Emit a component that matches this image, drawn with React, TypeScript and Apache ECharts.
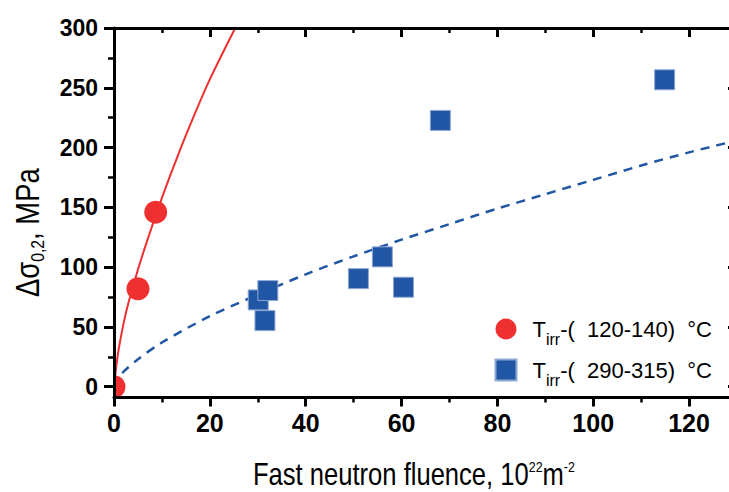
import React, { useEffect, useRef } from "react";
import * as echarts from "echarts";

// ---- data ----
const xMajorTicks = [0, 20, 40, 60, 80, 100, 120];
const xMinorTicks = [10, 30, 50, 70, 90, 110, 130];
const yMajorTicks = [0, 50, 100, 150, 200, 250, 300];
const yMinorTicks = [25, 75, 125, 175, 225, 275];

const lowTempName = "T irr (120-140) °C";
const highTempName = "T irr (290-315) °C";
const lowTempLabel = "-(  120-140)  °C";
const highTempLabel = "-(  290-315)  °C";

const xTitle = "Fast neutron fluence, 10{p|22}m{p|-2}";
const yTitle = "Δσ{s|0,2}, MPa";

const lowTempFluence = [0, 5.0, 8.7];
const lowTempDelta = [0, 82, 146];
const highTempFluence = [30.1, 32.1, 31.5, 51.0, 56.0, 60.4, 68.1, 114.9];
const highTempDelta = [72.6, 80.4, 55.3, 90.4, 108.6, 83.2, 222.7, 256.7];

const lowFitFluence = [0, 0.5, 1, 2, 3, 5, 7, 10, 13, 16, 20, 25.3];
const lowFitDelta = [0, 18, 32, 53, 70, 98, 123, 158, 190, 220, 257, 300];
const highFitFluence = [0, 1, 2, 5, 10, 20, 30, 40, 50, 60, 70, 80, 90, 100, 110, 120, 130];
const highFitDelta = [0, 8, 12.6, 23, 37, 59, 77, 94, 109, 123, 136, 149, 161, 173, 185, 196, 206];

const X_MIN = 0;
const X_MAX = 130;
const Y_MIN = -9;
const Y_MAX = 300;

const RED = "#ee3030";
const BLUE = "#2156a5";
const BLACK = "#000";
const FR = "'Liberation Sans', Arial, sans-serif";

const zip = (xs: number[], ys: number[]) => xs.map((x, i) => [x, ys[i]]);

export default function App() {
  const ref = useRef<HTMLDivElement>(null);

  useEffect(() => {
    if (!ref.current) return;
    const chart = echarts.init(ref.current, null, { renderer: "svg" });

    const baseX = { type: "value", min: X_MIN, max: X_MAX, splitLine: { show: false } };
    const baseY = { type: "value", min: Y_MIN, max: Y_MAX, splitLine: { show: false } };

    const option: any = {
      animation: false,
      backgroundColor: "#fff",
      grid: { left: 114, top: 28, right: -8, bottom: 94.5, containLabel: false, outerBoundsMode: "none" },
      legend: {
        orient: "vertical",
        left: 494.5,
        top: 311,
        padding: 0,
        itemGap: 5,
        itemWidth: 21,
        itemHeight: 21,
        selectedMode: false,
        data: [
          { name: lowTempName, icon: "circle", itemStyle: { color: RED } },
          { name: highTempName, icon: "rect", itemStyle: { color: BLUE } },
        ],
        formatter: (name: string) =>
          "{a|T}{s|irr}{b|" + (name === lowTempName ? lowTempLabel : highTempLabel) + "}",
        textStyle: {
          color: BLACK,
          rich: {
            a: { fontFamily: FR, fontSize: 22, lineHeight: 30, color: BLACK, padding: [0, 0, 0, 11], verticalAlign: "middle" },
            s: { fontFamily: FR, fontSize: 16, lineHeight: 16, color: BLACK, padding: [20, 0, 0, 0], verticalAlign: "middle" },
            b: { fontFamily: FR, fontSize: 22, lineHeight: 30, color: BLACK, verticalAlign: "middle" },
          },
        },
      },
      graphic: [
        {
          type: "text",
          x: 253,
          y: 474.5,
          scaleX: 0.825,
          silent: true,
          style: {
            text: xTitle,
            fontFamily: FR,
            fontSize: 31,
            lineHeight: 34,
            fill: BLACK,
            align: "left",
            verticalAlign: "middle",
            rich: {
              p: { fontFamily: FR, fontSize: 15, lineHeight: 15, fill: BLACK, color: BLACK, padding: [0, 0, 14, 0], verticalAlign: "middle" },
            },
          },
        },
        {
          type: "text",
          x: 27.5,
          y: 297,
          rotation: Math.PI / 2,
          scaleX: 0.83,
          silent: true,
          style: {
            text: yTitle,
            fontFamily: FR,
            fontSize: 33,
            lineHeight: 36,
            fill: BLACK,
            align: "left",
            verticalAlign: "middle",
            rich: {
              s: { fontFamily: FR, fontSize: 19, lineHeight: 20, fill: BLACK, color: BLACK, padding: [20, 0, 0, 0], verticalAlign: "middle" },
            },
          },
        },
      ],
      xAxis: [
        {
          ...baseX,
          position: "bottom",
          z: 5,
          axisLine: { show: true, onZero: false, lineStyle: { color: BLACK, width: 3 } },
          axisTick: { show: true, inside: false, length: 9, customValues: xMajorTicks, lineStyle: { color: BLACK, width: 3 } },
          axisLabel: { show: true, customValues: xMajorTicks, margin: 13, fontFamily: FR, fontWeight: "bold", fontSize: 25, color: BLACK },
        },
        {
          ...baseX,
          position: "bottom",
          z: 5,
          axisLine: { show: false, onZero: false },
          axisTick: { show: true, inside: false, length: 5, customValues: xMinorTicks, lineStyle: { color: BLACK, width: 2.5 } },
          axisLabel: { show: false },
        },
        {
          ...baseX,
          position: "top",
          z: 5,
          axisLine: { show: true, onZero: false, lineStyle: { color: BLACK, width: 3 } },
          axisTick: { show: true, inside: true, length: 9, customValues: xMajorTicks, lineStyle: { color: BLACK, width: 3 } },
          axisLabel: { show: false },
        },
        {
          ...baseX,
          position: "top",
          z: 5,
          axisLine: { show: false, onZero: false },
          axisTick: { show: true, inside: true, length: 5, customValues: xMinorTicks, lineStyle: { color: BLACK, width: 2.5 } },
          axisLabel: { show: false },
        },
      ],
      yAxis: [
        {
          ...baseY,
          position: "left",
          z: 5,
          axisLine: { show: true, onZero: false, lineStyle: { color: BLACK, width: 3 } },
          axisTick: { show: true, inside: false, length: 10, customValues: yMajorTicks, lineStyle: { color: BLACK, width: 3 } },
          axisLabel: { show: true, customValues: yMajorTicks, margin: 16, fontFamily: FR, fontWeight: "bold", fontSize: 23, color: BLACK },
        },
        {
          ...baseY,
          position: "left",
          z: 5,
          axisLine: { show: false, onZero: false },
          axisTick: { show: true, inside: false, length: 6, customValues: yMinorTicks, lineStyle: { color: BLACK, width: 2.5 } },
          axisLabel: { show: false },
        },
        {
          ...baseY,
          position: "right",
          z: 5,
          axisLine: { show: true, onZero: false, lineStyle: { color: BLACK, width: 3 } },
          axisTick: { show: true, inside: true, length: 9, customValues: yMajorTicks, lineStyle: { color: BLACK, width: 3 } },
          axisLabel: { show: false },
        },
      ],
      series: [
        {
          type: "line",
          name: "fit-low",
          xAxisIndex: 0,
          yAxisIndex: 0,
          data: zip(lowFitFluence, lowFitDelta),
          smooth: 0.3,
          showSymbol: false,
          symbol: "none",
          z: 2,
          lineStyle: { color: RED, width: 2 },
          silent: true,
        },
        {
          type: "line",
          name: "fit-high",
          xAxisIndex: 0,
          yAxisIndex: 0,
          data: zip(highFitFluence, highFitDelta),
          smooth: 0.3,
          showSymbol: false,
          symbol: "none",
          z: 2,
          lineStyle: { color: BLUE, width: 2.5, type: [9, 7] },
          silent: true,
        },
        {
          type: "custom",
          name: lowTempName,
          coordinateSystem: "cartesian2d",
          xAxisIndex: 0,
          yAxisIndex: 0,
          clip: true,
          z: 3,
          itemStyle: { color: RED },
          encode: { x: 0, y: 1 },
          data: zip(lowTempFluence, lowTempDelta),
          renderItem: (_params: any, api: any) => {
            const p = api.coord([api.value(0), api.value(1)]);
            return { type: "circle", shape: { cx: p[0], cy: p[1], r: 11.5 }, style: { fill: RED } };
          },
        },
        {
          type: "scatter",
          name: highTempName,
          xAxisIndex: 0,
          yAxisIndex: 0,
          symbol: "rect",
          symbolSize: 20,
          z: 3,
          itemStyle: { color: BLUE, borderColor: "#8ea8d4", borderWidth: 1, opacity: 1 },
          data: zip(highTempFluence, highTempDelta),
        },
      ],
    };

    chart.setOption(option);
    return () => chart.dispose();
  }, []);

  return <div ref={ref} style={{ width: 729, height: 492, position: "absolute", left: 0, top: 0 }} />;
}
